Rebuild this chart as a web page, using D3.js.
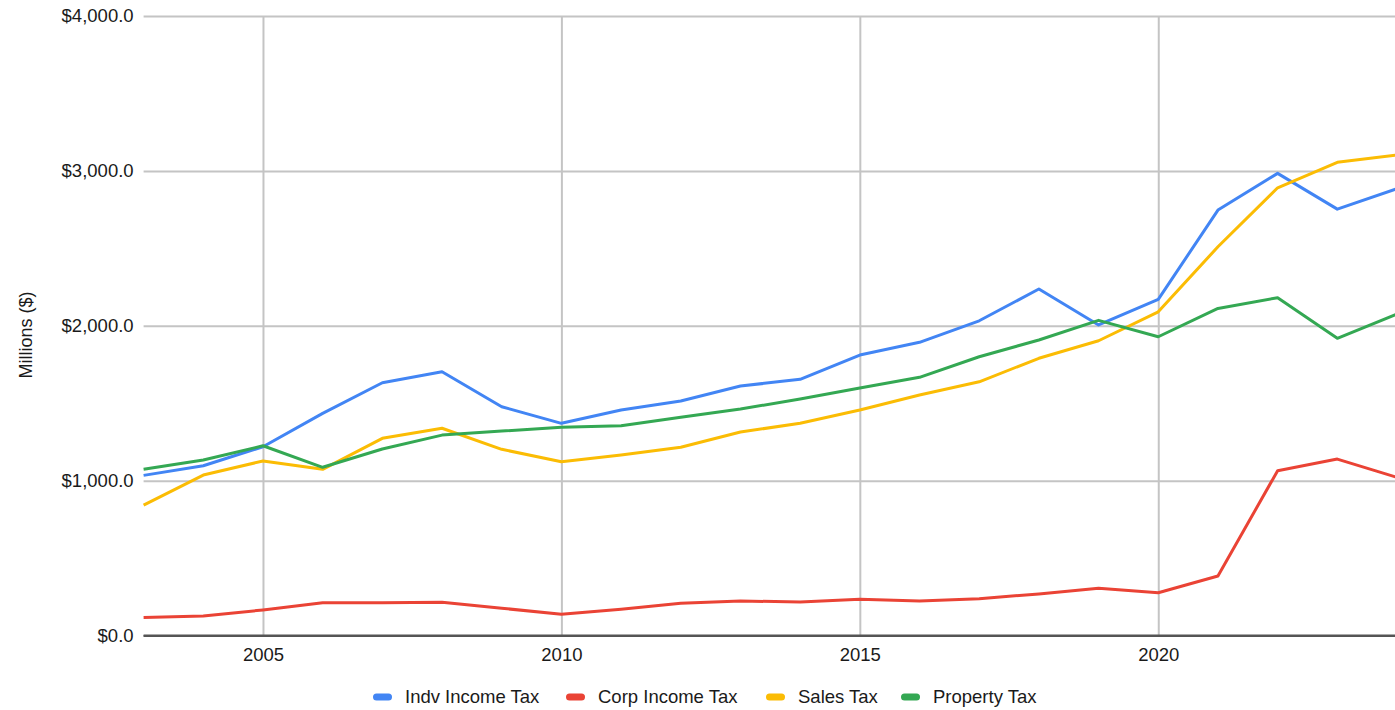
<!DOCTYPE html>
<html>
<head>
<meta charset="utf-8">
<script src="https://cdn.jsdelivr.net/npm/d3@7"></script>
<style>
  body { margin: 0; background: #fff; }
  svg { display: block; font-family: "Liberation Sans", Arial, sans-serif; }
</style>
</head>
<body>
<div id="chart"></div>
<script>
// Tax revenue by type, millions of dollars
const years = d3.range(2003, 2025);
const indvIncome = [1034, 1096, 1219, 1434, 1632, 1703, 1477, 1370, 1456, 1514, 1611, 1654, 1811, 1893, 2032, 2237, 2005, 2170, 2747, 2984, 2753, 2885];
const corpIncome = [117, 126, 165, 212, 212, 214, 176, 137, 169, 208, 223, 216, 234, 223, 238, 268, 305, 276, 384, 1064, 1139, 1021];
const salesTax = [842, 1036, 1127, 1073, 1273, 1338, 1202, 1122, 1165, 1215, 1314, 1370, 1456, 1553, 1638, 1790, 1903, 2090, 2510, 2891, 3055, 3102];
const propertyTax = [1073, 1133, 1225, 1086, 1204, 1294, 1320, 1344, 1354, 1409, 1462, 1527, 1598, 1667, 1800, 1908, 2035, 1929, 2112, 2181, 1919, 2075];

const seriesNames = ["Indv Income Tax", "Corp Income Tax", "Sales Tax", "Property Tax"];
const seriesColors = ["#4285f4", "#ea4335", "#fbbc04", "#34a853"];
const yTicks = [0, 1000, 2000, 3000, 4000];
const xTicks = [2005, 2010, 2015, 2020];

const WIDTH = 1395;
const HEIGHT = 710;
const FONT = "18.5px";

const series = [indvIncome, corpIncome, salesTax, propertyTax].map((vals, i) => ({
  name: seriesNames[i],
  color: seriesColors[i],
  values: vals.map((v, j) => ({ x: years[j], y: v })),
}));

const xScale = d3.scaleLinear([2003, 2024], [143.6, 1397]);
const yScale = d3.scaleLinear([0, 4000], [635.5, 16]);

const svg = d3
  .select("#chart")
  .append("svg")
  .attr("width", WIDTH)
  .attr("height", HEIGHT);

// Horizontal gridlines + y labels
const yAxis = svg
  .append("g")
  .attr("transform", `translate(${xScale.range()[0]},0)`)
  .call(
    d3
      .axisLeft(yScale)
      .tickValues(yTicks)
      .tickSize(-(WIDTH - xScale.range()[0]))
      .tickPadding(10)
      .tickFormat((d) => "$" + d3.format(",.1f")(d))
  );
yAxis.select(".domain").remove();
yAxis
  .selectAll(".tick line")
  .attr("stroke", (d) => (d === 0 ? "#555" : "#c4c4c4"))
  .attr("stroke-width", 2);
yAxis
  .selectAll(".tick text")
  .style("font-size", FONT)
  .style("fill", "#1a1a1a");

// Vertical gridlines + x labels
const xAxis = svg
  .append("g")
  .attr("transform", `translate(0,${yScale(0)})`)
  .call(
    d3
      .axisBottom(xScale)
      .tickValues(xTicks)
      .tickSize(-(yScale(0) - yScale(4000)))
      .tickPadding(12)
      .tickFormat(d3.format("d"))
  );
xAxis.select(".domain").remove();
xAxis.selectAll(".tick line").attr("stroke", "#c4c4c4").attr("stroke-width", 2);
xAxis
  .selectAll(".tick text")
  .style("font-size", FONT)
  .style("fill", "#1a1a1a");

// redraw baseline on top of verticals
svg
  .append("line")
  .attr("x1", xScale.range()[0])
  .attr("x2", WIDTH)
  .attr("y1", yScale(0))
  .attr("y2", yScale(0))
  .attr("stroke", "#555")
  .attr("stroke-width", 2);

// Series lines
const line = d3
  .line()
  .x((d) => xScale(d.x))
  .y((d) => yScale(d.y));

svg
  .selectAll(".series")
  .data(series)
  .enter()
  .append("path")
  .attr("class", "series")
  .attr("fill", "none")
  .attr("stroke", (d) => d.color)
  .attr("stroke-width", 3)
  .attr("stroke-linejoin", "round")
  .attr("d", (d) => line(d.values));

// Y axis title
svg
  .append("text")
  .attr("text-anchor", "middle")
  .attr("transform", "translate(32,335) rotate(-90)")
  .style("font-size", "18px")
  .style("fill", "#1a1a1a")
  .text("Millions ($)");

// Legend
const legendX = [373, 566, 766, 901];
const legend = svg
  .selectAll(".legend")
  .data(series)
  .enter()
  .append("g")
  .attr("class", "legend")
  .attr("transform", (d, i) => `translate(${legendX[i]},697)`);

legend
  .append("rect")
  .attr("x", 0)
  .attr("y", -3.5)
  .attr("width", 19)
  .attr("height", 7)
  .attr("rx", 3.5)
  .attr("fill", (d) => d.color);

legend
  .append("text")
  .attr("x", 32)
  .attr("dy", "0.35em")
  .style("font-size", FONT)
  .style("fill", "#1a1a1a")
  .text((d) => d.name);
</script>
</body>
</html>
